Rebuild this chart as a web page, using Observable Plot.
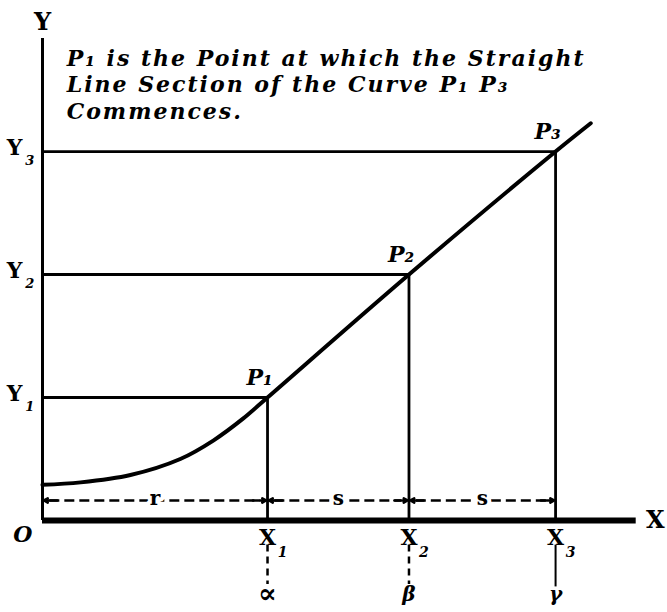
<!DOCTYPE html>
<html><head><meta charset="utf-8">
<script src="https://cdn.jsdelivr.net/npm/d3@7"></script>
<script src="https://cdn.jsdelivr.net/npm/@observablehq/plot@0.6"></script>
<style>body{margin:0;background:#fff} .note text{letter-spacing:2px}</style>
</head><body><div id="chart"></div>
<script>
// Points X1, X2, X3 on the x-axis and matching levels Y1, Y2, Y3
const xPoints = [3.07, 5.0, 7.0];
const yLevels = [1, 2, 3];
const pointSubs = ["1", "2", "3"];
const pointLabels = ["P₁", "P₂", "P₃"];
// Curve (curved foot, then straight section P1..P3)
const curveX = [0, 0.52, 1.2, 1.88, 2.33, 2.74, 3.07, 5.0, 7.0, 7.48];
const curveY = [0.29, 0.31, 0.37, 0.5, 0.65, 0.83, 1.0, 2.0, 3.0, 3.23];
// Spans along the x-axis
const spanStarts = [0, 3.07, 5.0];
const spanEnds = [3.07, 5.0, 7.0];
const spanLabels = ["r", "s", "s"];
// Labels below the axis
const belowLabels = ["∝", "β", "γ"];
const belowDashed = [true, true, false];
const titleText = "P₁ is the Point at which the Straight\nLine Section of the Curve P₁ P₃\nCommences.";

const idx = d3.range(xPoints.length);
const cIdx = d3.range(curveX.length);
const serif = "DejaVu Serif";
const arrowY = 0.163;

const chart = Plot.plot({
  width: 667,
  height: 612,
  style: {background: "#fff"},
  x: {domain: [0, 8.527], range: [42, 667], axis: null},
  y: {domain: [0, 4.228], range: [520, 0], axis: null},
  marks: [
    // horizontal guide lines Y_i -> P_i
    Plot.ruleY(idx, {y: i => yLevels[i], x1: 0, x2: i => xPoints[i], stroke: "black", strokeWidth: 2.8}),
    // vertical guide lines P_i -> X_i
    Plot.ruleX(idx, {x: i => xPoints[i], y1: 0, y2: i => yLevels[i], stroke: "black", strokeWidth: 2.8}),
    // extensions below the axis
    Plot.ruleX(idx.filter(i => belowDashed[i]), {x: i => xPoints[i], y1: -0.2, y2: -0.52, stroke: "black", strokeWidth: 2.5, strokeDasharray: "7,5"}),
    Plot.ruleX(idx.filter(i => !belowDashed[i]), {x: i => xPoints[i], y1: -0.2, y2: -0.54, stroke: "black", strokeWidth: 2}),
    // Y axis
    Plot.ruleX([0], {x: 0, y1: 0, y2: 3.92, stroke: "black", strokeWidth: 3}),
    // X axis (heavy)
    Plot.ruleY([0], {y: 0, x1: 0, x2: 8.1, stroke: "black", strokeWidth: 6}),
    // curve
    Plot.line(cIdx, {x: i => curveX[i], y: i => curveY[i], curve: "catmull-rom", stroke: "black", strokeWidth: 4, strokeLinecap: "round"}),
    // dashed span lines
    Plot.ruleY(idx, {y: arrowY, x1: i => spanStarts[i] + 0.1, x2: i => spanEnds[i] - 0.1, stroke: "black", strokeWidth: 2.5, strokeDasharray: "10,5"}),
    // arrow heads at each end
    Plot.arrow(idx, {x1: i => spanEnds[i] - 0.2, x2: i => spanEnds[i] - 0.02, y1: arrowY, y2: arrowY, stroke: "black", strokeWidth: 2.5, headLength: 10}),
    Plot.arrow(idx, {x1: i => spanStarts[i] + 0.2, x2: i => spanStarts[i] + 0.02, y1: arrowY, y2: arrowY, stroke: "black", strokeWidth: 2.5, headLength: 10}),
    // span labels
    Plot.text(idx, {x: i => (spanStarts[i] + spanEnds[i]) / 2, y: arrowY, text: i => spanLabels[i], fontFamily: serif, fontWeight: "bold", fontSize: 20, fill: "black", stroke: "white", strokeWidth: 8, dy: -2}),
    // Y_i labels
    Plot.text(idx, {x: -0.38, y: i => yLevels[i], text: () => "Y", fontFamily: serif, fontWeight: "bold", fontSize: 22, dy: -4}),
    Plot.text(idx, {x: -0.38, y: i => yLevels[i], text: i => pointSubs[i], fontFamily: serif, fontWeight: "bold", fontStyle: "italic", fontSize: 13, dx: 15, dy: 9}),
    // X_i labels
    Plot.text(idx, {x: i => xPoints[i], y: -0.14, text: () => "X", fontFamily: serif, fontWeight: "bold", fontSize: 22}),
    Plot.text(idx, {x: i => xPoints[i], y: -0.14, text: i => pointSubs[i], fontFamily: serif, fontWeight: "bold", fontStyle: "italic", fontSize: 14, dx: 15, dy: 15}),
    // P_i labels
    Plot.text(idx, {x: i => xPoints[i], y: i => yLevels[i], text: i => pointLabels[i], fontFamily: serif, fontWeight: "bold", fontStyle: "italic", fontSize: 22, dx: -8, dy: -20}),
    // Greek labels below
    Plot.text(idx, {x: i => xPoints[i], y: -0.6, text: i => belowLabels[i], fontFamily: serif, fontWeight: "bold", fontStyle: "italic", fontSize: i => (i === 0 ? 28 : 20)}),
    // axis names and origin
    Plot.text(["O"], {x: -0.27, y: -0.12, text: d => d, fontFamily: serif, fontWeight: "bold", fontStyle: "italic", fontSize: 22}),
    Plot.text(["X"], {x: 8.36, y: 0, text: d => d, fontFamily: serif, fontWeight: "bold", fontSize: 24}),
    Plot.text(["Y"], {x: 0, y: 4.05, text: d => d, fontFamily: serif, fontWeight: "bold", fontSize: 24}),
    // annotation
    Plot.text([titleText], {x: 0.33, y: 3.85, text: d => d, className: "note", textAnchor: "start", lineAnchor: "top", lineHeight: 1.2, fontFamily: serif, fontWeight: "bold", fontStyle: "italic", fontSize: 22})
  ]
});
document.getElementById("chart").append(chart);
</script>
</body></html>
